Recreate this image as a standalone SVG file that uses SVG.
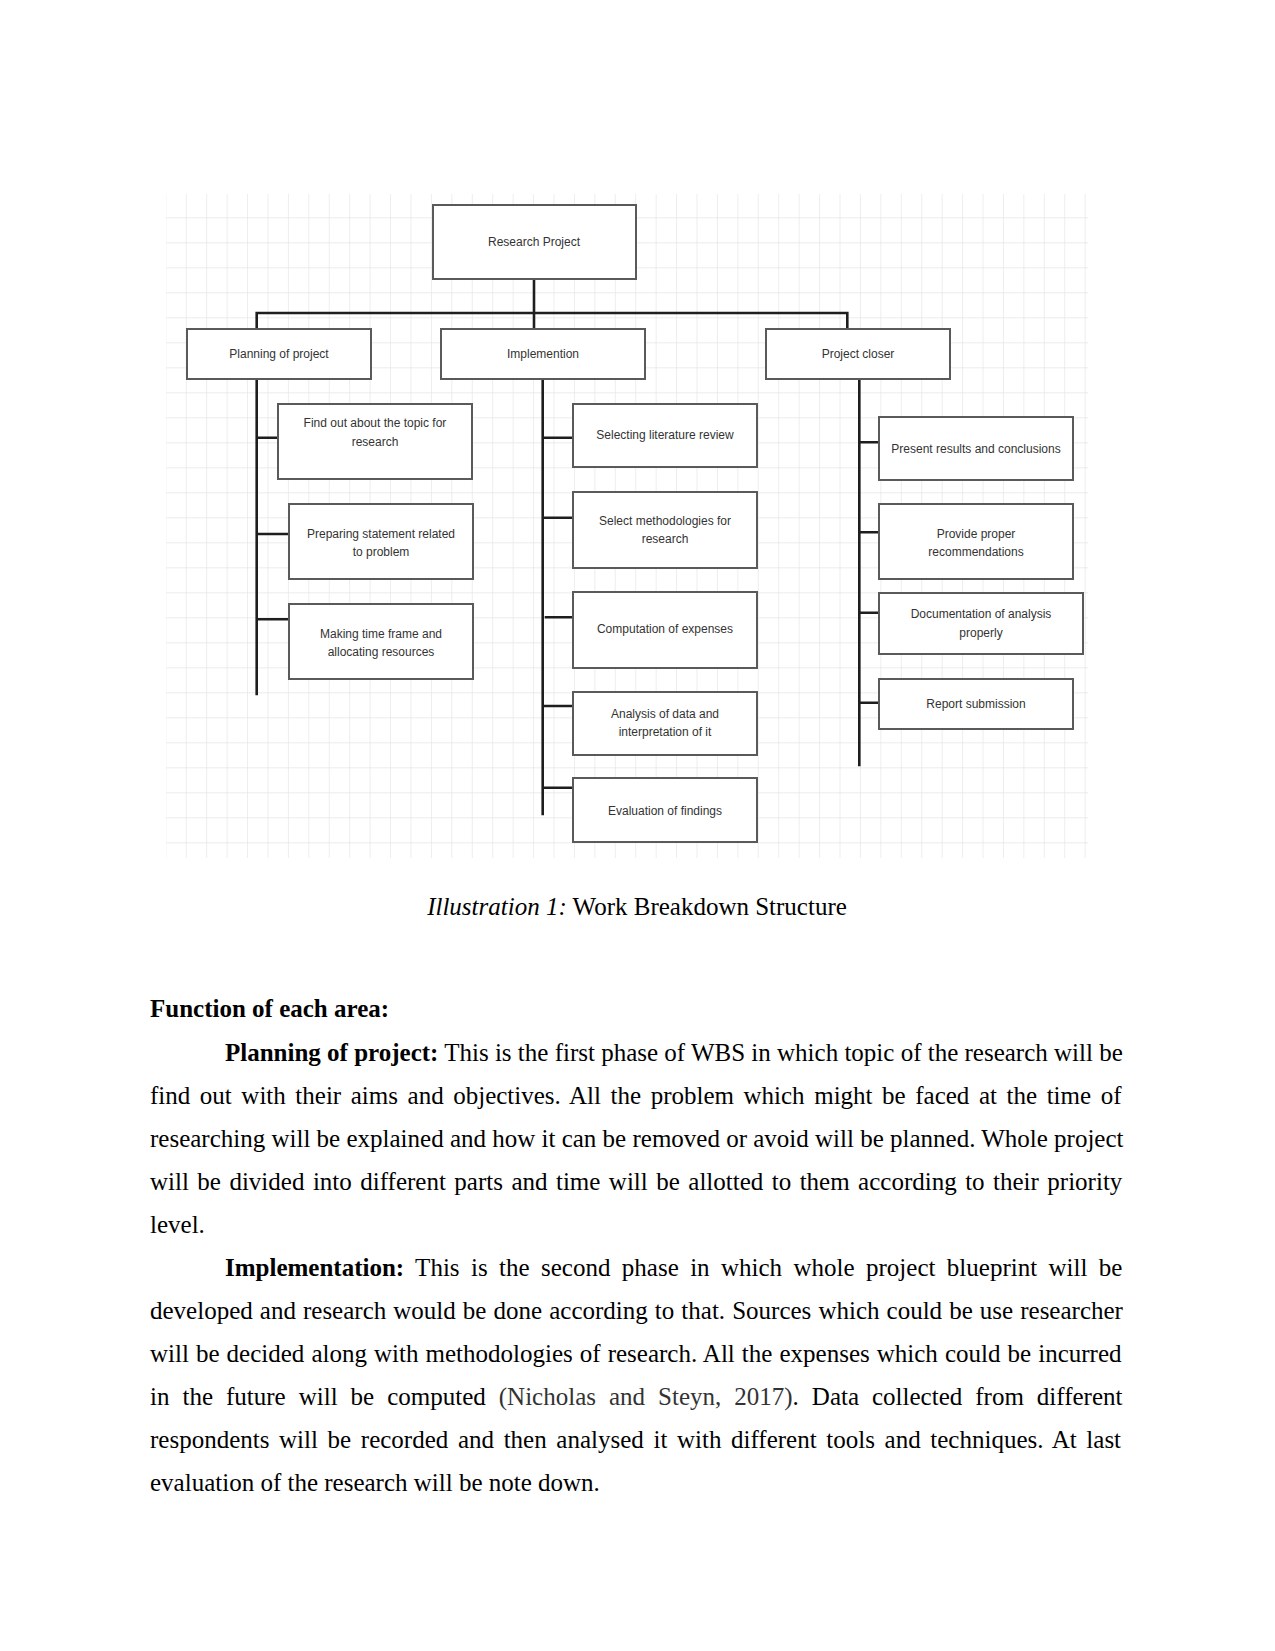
<svg xmlns="http://www.w3.org/2000/svg" width="1275" height="1651" viewBox="0 0 1275 1651">
<defs>
<pattern id="grid" x="166.3" y="193.3" width="20.43" height="25" patternUnits="userSpaceOnUse">
<path d="M20.43 0 V25 M0 25 H20.43" fill="none" stroke="#e6e6e6" stroke-width="1.4"/>
</pattern>
</defs>
<style>
.box{fill:#fff;stroke:#5a5a5a;stroke-width:2}
.lbl{font-family:"Liberation Sans",Arial,sans-serif;font-size:12px;fill:#333;text-anchor:middle}
.con{stroke:#1e1e1e;stroke-width:2.6;fill:none;stroke-linecap:square}
.body{font-family:"Liberation Serif","Times New Roman",serif;font-size:25px;fill:#000}
.b{font-weight:bold}
</style>
<rect width="1275" height="1651" fill="#fff"/>
<rect x="166" y="194" width="922" height="664" fill="url(#grid)"/>

<g id="connectors">
<path class="con" d="M534 279 V313 M256.7 313 H847.3 M256.7 313 V329 M534 313 V329 M847.3 313 V329"/>
<path class="con" d="M256.7 379 V694 M256.7 437.7 H278 M256.7 534 H289 M256.7 619.3 H289"/>
<path class="con" d="M542.7 379 V814 M542.7 437.7 H573 M542.7 517.7 H573 M546 617.3 H573 M542.7 706 H573 M542.7 787.7 H573"/>
<path class="con" d="M859.3 379 V765 M859.3 442.3 H879 M859.3 532.3 H879 M859.3 612.7 H879 M859.3 702.7 H879"/>
</g>

<g id="n-root"><rect class="box" x="433" y="205" width="203" height="74"/><text class="lbl" x="534" y="246">Research Project</text></g>
<g id="n-planning"><rect class="box" x="187" y="329" width="184" height="50"/><text class="lbl" x="279" y="358">Planning of project</text></g>
<g id="n-impl"><rect class="box" x="441" y="329" width="204" height="50"/><text class="lbl" x="543" y="358">Implemention</text></g>
<g id="n-closer"><rect class="box" x="766" y="329" width="184" height="50"/><text class="lbl" x="858" y="358">Project closer</text></g>

<g id="n-findout"><rect class="box" x="278" y="404" width="194" height="75"/><text class="lbl" x="375" y="427">Find out about the topic for</text><text class="lbl" x="375" y="446">research</text></g>
<g id="n-preparing"><rect class="box" x="289" y="504" width="184" height="75"/><text class="lbl" x="381" y="538">Preparing statement related</text><text class="lbl" x="381" y="556">to problem</text></g>
<g id="n-making"><rect class="box" x="289" y="604" width="184" height="75"/><text class="lbl" x="381" y="638">Making time frame and</text><text class="lbl" x="381" y="656">allocating resources</text></g>

<g id="n-selecting"><rect class="box" x="573" y="404" width="184" height="63"/><text class="lbl" x="665" y="439">Selecting literature review</text></g>
<g id="n-methods"><rect class="box" x="573" y="492" width="184" height="76"/><text class="lbl" x="665" y="525">Select methodologies for</text><text class="lbl" x="665" y="543">research</text></g>
<g id="n-computation"><rect class="box" x="573" y="592" width="184" height="76"/><text class="lbl" x="665" y="633">Computation of expenses</text></g>
<g id="n-analysis"><rect class="box" x="573" y="692" width="184" height="63"/><text class="lbl" x="665" y="718">Analysis of data and</text><text class="lbl" x="665" y="736">interpretation of it</text></g>
<g id="n-evaluation"><rect class="box" x="573" y="778" width="184" height="64"/><text class="lbl" x="665" y="815">Evaluation of findings</text></g>

<g id="n-present"><rect class="box" x="879" y="417" width="194" height="63"/><text class="lbl" x="976" y="453">Present results and conclusions</text></g>
<g id="n-provide"><rect class="box" x="879" y="504" width="194" height="75"/><text class="lbl" x="976" y="538">Provide proper</text><text class="lbl" x="976" y="556">recommendations</text></g>
<g id="n-documentation"><rect class="box" x="879" y="593" width="204" height="61"/><text class="lbl" x="981" y="618">Documentation of analysis</text><text class="lbl" x="981" y="637">properly</text></g>
<g id="n-report"><rect class="box" x="879" y="679" width="194" height="50"/><text class="lbl" x="976" y="708">Report submission</text></g>

<g id="caption">
<text class="body" x="637" y="915" text-anchor="middle"><tspan font-style="italic">Illustration 1:</tspan> Work Breakdown Structure</text>
</g>

<g id="body-text">
<text class="body b" x="150" y="1017">Function of each area:</text>
<text class="body" x="225" y="1061"><tspan class="b">Planning of project:</tspan> This is the first phase of WBS in which topic of the research will be</text>
<text class="body" x="150" y="1104" word-spacing="3.32">find out with their aims and objectives. All the problem which might be faced at the time of</text>
<text class="body" x="150" y="1147">researching will be explained and how it can be removed or avoid will be planned. Whole project</text>
<text class="body" x="150" y="1190" word-spacing="2.22">will be divided into different parts and time will be allotted to them according to their priority</text>
<text class="body" x="150" y="1233">level.</text>
<text class="body" x="225" y="1276" word-spacing="5.16"><tspan class="b">Implementation:</tspan> This is the second phase in which whole project blueprint will be</text>
<text class="body" x="150" y="1319" word-spacing="0.82">developed and research would be done according to that. Sources which could be use researcher</text>
<text class="body" x="150" y="1362" word-spacing="0.81">will be decided along with methodologies of research. All the expenses which could be incurred</text>
<text class="body" x="150" y="1405" word-spacing="6.75">in the future will be computed <tspan fill="#333">(Nicholas and Steyn, 2017)</tspan>. Data collected from different</text>
<text class="body" x="150" y="1448" word-spacing="3.39">respondents will be recorded and then analysed it with different tools and techniques. At last</text>
<text class="body" x="150" y="1491">evaluation of the research will be note down.</text>
</g>
</svg>
